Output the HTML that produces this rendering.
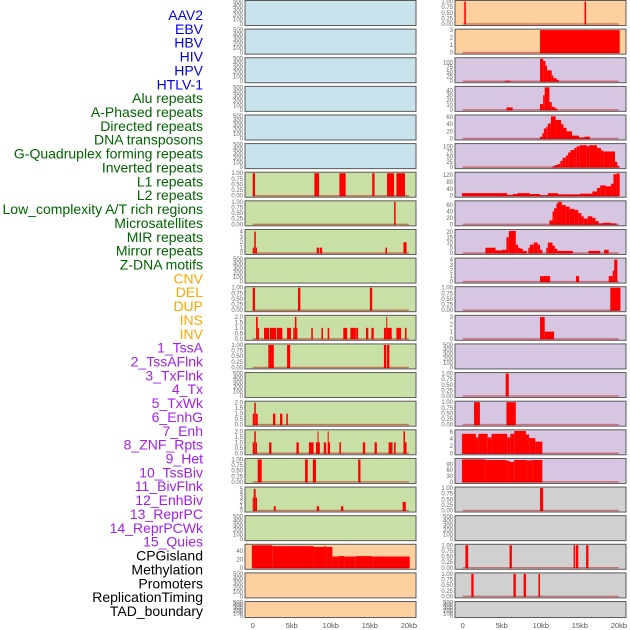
<!DOCTYPE html>
<html><head><meta charset="utf-8"><style>
html,body{margin:0;padding:0;background:#fff;width:630px;height:630px;overflow:hidden}
svg{display:block;font-family:"Liberation Sans",sans-serif}
</style></head><body>
<svg id="chart" width="630" height="630" viewBox="0 0 630 630" xmlns="http://www.w3.org/2000/svg"></svg>
<script>
const labels = ["AAV2","EBV","HBV","HIV","HPV","HTLV-1","Alu repeats","A-Phased repeats","Directed repeats","DNA transposons","G-Quadruplex forming repeats","Inverted repeats","L1 repeats","L2 repeats","Low_complexity A/T rich regions","Microsatellites","MIR repeats","Mirror repeats","Z-DNA motifs","CNV","DEL","DUP","INS","INV","1_TssA","2_TssAFlnk","3_TxFlnk","4_Tx","5_TxWk","6_EnhG","7_Enh","8_ZNF_Rpts","9_Het","10_TssBiv","11_BivFlnk","12_EnhBiv","13_ReprPC","14_ReprPCWk","15_Quies","CPGisland","Methylation","Promoters","ReplicationTiming","TAD_boundary"];
const labelGroups = [6,13,5,15,5];
const groupColors = ["#0000ee","#006400","#ffa500","#a020f0","#000000"];
const xTicks = [0,5,10,15,20];
const xTickLabels = ["0","5kb","10kb","15kb","20kb"];
const leftFill = ["#c8e3ec","#c8e3ec","#c8e3ec","#c8e3ec","#c8e3ec","#c8e3ec","#c8e0a5","#c8e0a5","#c8e0a5","#c8e0a5","#c8e0a5","#c8e0a5","#c8e0a5","#c8e0a5","#c8e0a5","#c8e0a5","#c8e0a5","#c8e0a5","#c8e0a5","#fdd09e","#fdd09e","#fdd09e"];
const rightFill = ["#fdd09e","#fdd09e","#d6c6e1","#d6c6e1","#d6c6e1","#d6c6e1","#d6c6e1","#d6c6e1","#d6c6e1","#d6c6e1","#d6c6e1","#d6c6e1","#d6c6e1","#d6c6e1","#d6c6e1","#d6c6e1","#d6c6e1","#d0d0d0","#d0d0d0","#d0d0d0","#d0d0d0","#d0d0d0"];
const T500=[0,100,200,300,400,500], T1=[0,0.25,0.5,0.75,1];
const leftYmax = [500,500,500,500,500,500,1,1,4.2,500,1,2.05,1,500,2.05,2.05,1,5.2,500,54,500,500];
const leftTicks = [T500,T500,T500,T500,T500,T500,T1,T1,[0,1,2,3,4],T500,T1,[0,0.5,1,1.5,2],T1,T500,[0,0.5,1,1.5,2],[0,0.5,1,1.5,2],T1,[0,1,2,3,4,5],T500,[0,20,40],T500,T500];
const rightYmax = [1,3,120,46,63,108,131,70,21.5,4.1,1,3.1,500,1,1,6.35,115,1,500,1,1,500];
const rightTicks = [T1,[0,1,2,3],[0,25,50,75,100],[0,10,20,30,40],[0,20,40,60],[0,25,50,75,100],[0,40,80,120],[0,20,40,60],[0,5,10,15,20],[0,1,2,3,4],T1,[0,1,2,3],T500,T1,T1,[0,2,4,6],[0,30,60,90],T1,T500,T1,T1,T500];
const leftBars = [[],[],[],[],[],[],
 [[0,0.3,1],[7.9,8.5,1],[11.1,11.9,1],[15.3,15.6,1],[17.2,18.1,1],[18.4,19.5,1]],
 [[18.1,18.3,1]],
 [[0,0.2,1],[0.2,0.4,4],[0.4,0.55,1],[8.2,8.5,1],[8.6,8.9,1],[17.0,17.2,1],[19.3,19.7,2]],
 [],
 [[0,0.3,1],[5.8,6.1,1],[15.0,15.3,1]],
 [[0.43,0.64,2],[0.64,0.81,1],[1.45,2.1,1],[2.2,3.0,1],[3.1,3.8,1],[4.4,4.9,1],[5.2,5.4,1],[5.4,5.6,2],[5.6,5.7,1],[7.5,7.7,1],[8.8,9.0,1],[9.6,9.8,1],[11.6,12.1,1],[12.5,13.2,1],[13.25,13.5,1],[14.5,14.8,1],[15.2,15.5,1],[16.8,17.1,1],[17.1,17.2,2],[17.2,17.8,1],[18.4,19.0,1],[19.5,19.7,1]],
 [[2.0,2.7,1],[4.4,4.8,1],[16.8,17.1,1],[17.2,17.5,1]],
 [],
 [[0,0.2,1],[0.2,0.4,2],[0.4,0.64,1],[2.6,2.9,1],[3.5,3.8,1],[4.3,4.5,1]],
 [[0,0.2,1],[0.2,0.4,2],[0.4,0.55,1],[2.1,2.4,1],[5.6,5.9,1],[7.2,7.8,1],[8.1,8.3,1],[8.3,8.4,2],[8.4,8.6,1],[9.1,9.4,1],[9.6,9.7,2],[9.7,9.9,1],[11.1,11.3,1],[14.1,14.4,1],[15.6,15.9,1],[17.4,17.9,1],[18.1,18.3,1],[19.3,19.5,2],[19.5,19.7,1]],
 [[0.64,1.15,1],[6.7,7.05,1],[7.7,8.1,1],[13.5,13.8,1]],
 [[0,0.13,3],[0.13,0.38,5],[0.38,0.55,3],[2.7,2.95,1],[8.2,8.5,1],[11.3,11.6,1],[19.2,19.6,2]],
 [],
 [[-0.1,2.5,54],[2.5,7.8,52],[7.8,9.2,50],[9.2,9.4,52],[9.4,10.2,50],[10.2,11.0,27],[11.0,11.7,28],[11.7,13.2,27],[13.2,15.3,28],[15.3,20.1,27]],
 [],[]];
const rightBars = [
 [[0.2,0.4,1],[15.6,15.8,1]],
 [[9.9,20.1,3]],
 [[5.4,6.1,3],[9.9,10.3,120],[10.3,10.6,108],[10.6,10.8,83],[10.8,11.4,58],[11.4,11.6,31],[11.6,12.0,17],[12.0,12.3,8]],
 [[5.6,6.4,5],[9.9,10.3,12],[10.3,10.5,30],[10.5,11.1,46],[11.1,11.4,16],[11.4,11.8,6],[11.8,12.1,3]],
 [[9.9,10.2,5],[10.2,10.4,15],[10.4,10.7,28],[10.7,10.9,33],[10.9,11.3,42],[11.3,11.9,62],[11.9,12.6,52],[12.6,12.9,40],[12.9,13.3,30],[13.3,14.0,20],[14.0,14.9,8],[14.9,15.6,3],[15.6,16.3,5]],
 [[11.5,11.8,5],[11.8,12.2,10],[12.2,12.5,15],[12.5,12.8,30],[12.8,13.2,45],[13.2,13.5,55],[13.5,13.8,70],[13.8,14.3,82],[14.3,14.6,92],[14.6,15.0,100],[15.0,15.9,105],[15.9,16.2,100],[16.2,17.2,105],[17.2,17.7,92],[17.7,18.0,80],[18.0,19.5,75],[19.5,19.8,25],[19.8,20.1,5]],
 [[-0.1,5.7,15],[5.7,6.4,5],[6.4,7.0,10],[7.0,8.6,15],[8.6,9.9,10],[9.9,10.9,3],[10.9,12.2,15],[12.2,15.0,8],[15.0,16.6,12],[16.6,17.2,25],[17.2,17.6,45],[17.6,18.3,60],[18.3,19.0,55],[19.0,19.3,70],[19.3,19.7,125],[19.7,20.1,130]],
 [[11.1,11.5,12],[11.5,11.7,40],[11.7,12.0,50],[12.0,12.2,65],[12.2,12.7,70],[12.7,13.2,60],[13.2,13.7,55],[13.7,14.3,48],[14.3,14.8,45],[14.8,15.2,35],[15.2,15.5,25],[15.5,16.0,18],[16.0,16.6,25],[16.6,17.0,20],[17.0,17.4,10],[17.4,17.9,3],[17.9,19.0,5],[19.0,19.7,3]],
 [[2.9,4.2,5],[4.2,5.0,2.5],[5.0,5.6,3],[5.6,5.9,15],[5.9,6.8,21],[6.8,7.1,8],[7.1,7.4,5],[7.4,7.7,4],[7.7,8.2,2],[8.4,8.6,5],[8.6,9.1,8],[9.1,9.6,10],[9.6,9.9,8],[9.9,10.2,3],[10.7,10.9,5],[10.9,11.5,10],[11.5,11.8,7],[11.8,12.1,4],[12.1,14.1,2],[16.1,17.6,2],[18.1,18.7,3]],
 [[9.9,11.2,1],[14.5,14.9,1],[18.7,19.2,1],[19.2,19.4,2],[19.4,19.8,4]],
 [[18.9,20.2,1]],
 [[9.9,10.5,3],[10.5,11.7,1]],
 [],
 [[5.5,5.9,1]],
 [[1.45,2.2,1],[5.6,6.8,1]],
 [[-0.1,1.7,5.5],[1.7,2.0,4.5],[2.0,3.2,5.5],[3.2,3.7,4.5],[3.7,5.7,5.5],[5.7,6.1,4.5],[6.1,6.6,5.5],[6.6,8.1,6.3],[8.1,8.5,5.3],[8.5,9.3,4.3],[9.3,10.2,3.3]],
 [[-0.1,2.9,115],[2.9,5.6,112],[5.6,6.0,108],[6.0,6.6,103],[6.6,8.2,112],[8.2,8.9,110],[8.9,10.2,112]],
 [[9.9,10.3,1]],
 [],
 [[0.35,0.7,1],[6.0,6.3,1],[14.2,14.4,1],[14.5,14.8,1],[15.8,16.1,1]],
 [[1.1,1.4,1],[6.5,6.8,1],[7.8,8.1,1],[9.7,9.9,1]],
 []];

const NS="http://www.w3.org/2000/svg";
const svg=document.getElementById('chart');
function mk(tag,attrs,parent){const e=document.createElementNS(NS,tag);for(const k in attrs)e.setAttribute(k,attrs[k]);(parent||svg).appendChild(e);return e;}

let li=0;
labelGroups.forEach((n,g)=>{for(let k=0;k<n;k++){
  const t=mk('text',{x:203,y:20+li*13.86,'text-anchor':'end','font-size':14,fill:groupColors[g]});
  t.textContent=labels[li];
  
  
  li++;}});

const cols=[{x0:245,x1:416,z:252.7,fill:leftFill,ym:leftYmax,ticks:leftTicks,bars:leftBars,tx:243,name:'left'},
            {x0:455,x1:626,z:462.7,fill:rightFill,ym:rightYmax,ticks:rightTicks,bars:rightBars,tx:453,name:'right'}];
const PXKB=7.81;
function fmt(v,ticks){const dec=ticks.some(t=>Math.abs(t*2-Math.round(t*2))>1e-9)?2:(ticks.some(t=>t%1!==0)?1:0);return v.toFixed(dec);}
cols.forEach(c=>{
  const xs=kb=>c.z+kb*PXKB;
  for(let r=0;r<22;r++){
    const top=0.5+r*28.62, h=(r===21?16:25), bot=top+h;
    const ymax=c.ym[r];
    const ys=v=>bot-1.5-v/ymax*(h-2.5);
    const g=mk('g',{});
    
    
    const bg=mk('rect',{x:c.x0,y:top,width:c.x1-c.x0,height:h,fill:c.fill[r],stroke:'#5a5a5a','stroke-width':1},g);
    
    
    c.bars[r].forEach(b=>{
      const x=xs(b[0]),w=Math.max(1,xs(b[1])-x),y=ys(b[2]);
      const rc=mk('rect',{x:x,y:y,width:w,height:ys(0)-y+0.5,fill:'#ff0000'},g);
      
      
    });
    if(c.bars[r].length){
      const bl=mk('line',{x1:xs(0),x2:xs(20),y1:ys(0),y2:ys(0),stroke:'rgba(190,0,0,0.45)','stroke-width':1.5},g);
      
      
    }
    const tk=c.ticks[r];
    tk.forEach(v=>{
      const t=mk('text',{x:c.tx,y:ys(v)+2,'text-anchor':'end','font-size':6,fill:'#666'},g);
      t.textContent=fmt(v,tk);
      
      
    });
  }
  xTicks.forEach((v,i)=>{
    const t=mk('text',{x:xs(v),y:628,'text-anchor':'middle','font-size':7.5,fill:'#555'});
    t.textContent=xTickLabels[i];
    
    
  });
});
</script>
</body></html>
